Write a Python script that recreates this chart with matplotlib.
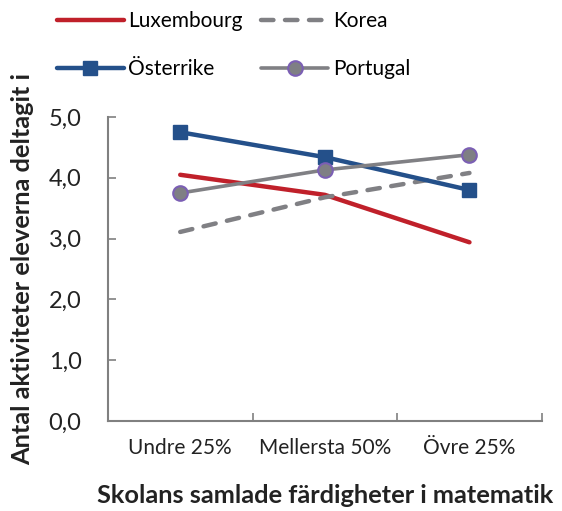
import matplotlib.pyplot as plt
from matplotlib.ticker import FixedLocator

plt.rcParams['font.family'] = ['Lato', 'DejaVu Sans']

categories = ['Undre 25%', 'Mellersta 50%', 'Övre 25%']
luxembourg = [4.05, 3.72, 2.94]
korea = [3.11, 3.68, 4.08]
osterrike = [4.75, 4.34, 3.80]
portugal = [3.75, 4.13, 4.38]

fig = plt.figure(figsize=(5.62, 5.11), dpi=100)
ax = fig.add_axes([0.192, 0.176, 0.772, 0.595])

x = range(len(categories))
l1, = ax.plot(x, luxembourg, color='#C0202A', lw=3.2, solid_capstyle='round', label='Luxembourg')
l2, = ax.plot(x, korea, color='#808084', lw=3.2, ls=(0, (2.8, 2.6)), dash_capstyle='round', label='Korea')
l3, = ax.plot(x, osterrike, color='#24508A', lw=3.2, marker='s', ms=10.5, solid_capstyle='round', label='Österrike')
l4, = ax.plot(x, portugal, color='#808084', lw=2.6, marker='o', ms=10.5, mfc='#7F7F84',
              mec='#7B5FB4', mew=1.5, solid_capstyle='round', label='Portugal')

ax.set_xlim(-0.5, 2.5)
ax.set_ylim(0, 5)
ax.set_xticks(list(x))
ax.set_xticklabels(categories, fontsize=15, color='#222222')
ax.xaxis.set_minor_locator(FixedLocator([-0.5, 0.5, 1.5, 2.5]))
ax.tick_params(axis='x', which='major', length=0, pad=12)
ax.tick_params(axis='x', which='minor', direction='in', length=6, color='#808080', width=1.2)
ax.set_yticks([0, 1, 2, 3, 4, 5])
ax.set_yticklabels([f'{v:.1f}'.replace('.', ',') for v in range(6)], fontsize=17, color='#222222')
ax.tick_params(axis='y', direction='in', length=6, color='#808080', width=1.2, pad=19)

for s in ['top', 'right']:
    ax.spines[s].set_visible(False)
for s in ['left', 'bottom']:
    ax.spines[s].set_color('#808080')
    ax.spines[s].set_linewidth(1.5)

ax.set_xlabel('Skolans samlade färdigheter i matematik', fontsize=18.3, fontweight='bold',
              color='#222222', labelpad=19)
ax.set_ylabel('Antal aktiviteter eleverna deltagit i', fontsize=18.3, fontweight='bold',
              color='#222222', labelpad=10)

fig.legend([l1, l3, l2, l4], ['Luxembourg', 'Österrike', 'Korea', 'Portugal'],
           loc='upper left', bbox_to_anchor=(0.068, 1.015), ncol=2, frameon=False,
           fontsize=15, handlelength=3.2, handletextpad=0.22, columnspacing=0.9,
           labelspacing=1.35)

fig.savefig('out.png', dpi=100)
